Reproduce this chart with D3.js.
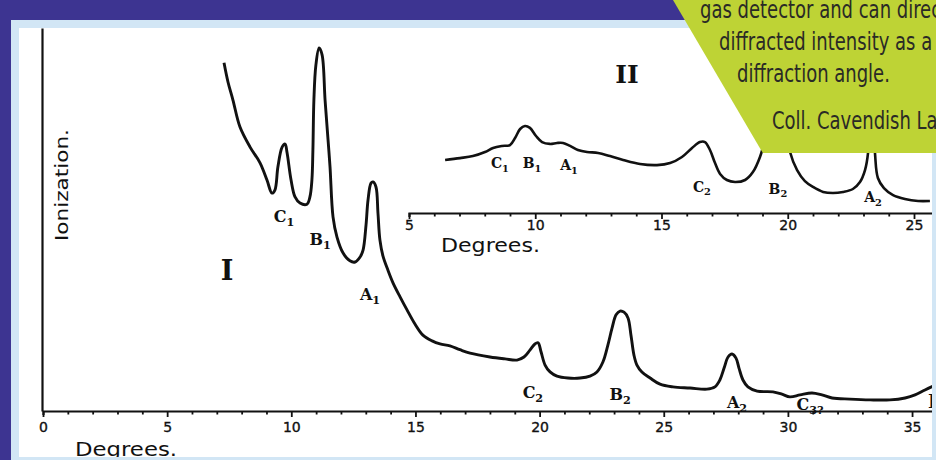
<!DOCTYPE html>
<html lang="en">
<head>
<meta charset="UTF-8">
<title>Bragg ionization spectrum</title>
<script src="https://cdn.jsdelivr.net/npm/d3@7/dist/d3.min.js"></script>
<style>
  body { margin: 0; background: #3d3491; }
  svg { display: block; }
</style>
</head>
<body>
<script>
// curve I (main): angle in degrees, ionization in arbitrary units
var mainDeg = [7.29, 7.45, 7.65, 7.93, 8.34, 8.74, 9.02, 9.22, 9.34, 9.46, 9.63, 9.75, 9.83, 9.99, 10.15,
  10.35, 10.63, 10.75, 10.83, 10.87, 10.91, 10.99, 11.12, 11.24, 11.36, 11.48, 11.56, 11.68, 11.84, 12.08,
  12.36, 12.57, 12.77, 12.89, 13.01, 13.09, 13.21, 13.29, 13.41, 13.49, 13.57, 13.69, 13.89, 14.10, 14.38,
  14.66, 14.98, 15.30, 15.67, 15.99, 16.39, 16.79, 17.20, 18.0, 18.61, 19.09, 19.37, 19.61, 19.81, 19.94,
  20.06, 20.22, 20.42, 20.70, 21.14, 21.63, 22.03, 22.31, 22.55, 22.75, 22.92, 23.08, 23.24, 23.40, 23.56,
  23.68, 23.80, 23.92, 24.12, 24.45, 24.85, 25.37, 26.06, 26.74, 27.06, 27.26, 27.43, 27.59, 27.75, 27.91,
  28.03, 28.19, 28.39, 28.76, 29.40, 29.76, 30.08, 30.49, 30.97, 31.37, 31.78, 32.50, 33.31, 34.11, 34.72,
  35.12, 35.52, 35.96];
var mainIon = [90.9, 85.9, 81.2, 74.2, 68.9, 64.8, 60.3, 56.9, 57.7, 63.7, 68.9, 69.7, 67.4, 60.3, 55.9,
  54.3, 54.0, 55.9, 60.3, 68.1, 81.2, 90.3, 94.8, 93.0, 81.2, 70.8, 63.7, 50.7, 45.4, 41.3,
  39.2, 38.9, 40.2, 42.0, 48.6, 55.1, 59.5, 59.8, 58.5, 51.7, 44.6, 40.5, 36.8, 33.4, 29.8,
  26.4, 22.7, 19.8, 18.3, 17.5, 17.0, 16.0, 15.1, 14.1, 13.6, 13.3, 14.1, 15.9, 17.5, 17.8,
  15.4, 12.0, 10.2, 9.1, 8.6, 8.6, 9.1, 10.2, 12.8, 17.2, 21.7, 25.1, 26.1, 25.8, 24.3,
  19.8, 14.6, 12.0, 10.2, 8.6, 7.0, 6.3, 6.0, 5.7, 6.3, 8.1, 11.2, 14.1, 14.9, 13.8,
  11.2, 8.1, 6.3, 5.2, 5.0, 4.4, 3.7, 4.2, 4.7, 4.2, 3.4, 3.1, 2.9, 2.9, 3.4,
  4.2, 5.5, 6.8];

// curve II (inset)
var insetDeg = [6.43, 7.02, 7.53, 8.01, 8.33, 8.68, 9.0, 9.20, 9.40, 9.59, 9.79, 10.03, 10.27, 10.58, 10.86,
  11.10, 11.38, 11.69, 12.05, 12.49, 12.96, 13.48, 14.15, 14.82, 15.34, 15.81, 16.21, 16.52, 16.72, 16.92,
  17.12, 17.32, 17.59, 17.91, 18.31, 18.62, 18.90, 19.14, 19.38, 19.61, 19.85, 20.09, 20.37, 20.68, 21.0,
  21.40, 21.79, 22.19, 22.58, 22.86, 23.06, 23.18, 23.26, 23.30, 23.38, 23.46, 23.57, 23.81, 24.17, 24.64,
  25.16, 25.63];
var insetIon = [28.3, 29.3, 30.4, 32.6, 34.8, 35.9, 36.4, 40.2, 45.1, 46.7, 45.7, 41.3, 38.0, 37.0, 37.5,
  37.5, 35.9, 33.7, 32.6, 32.1, 30.4, 28.3, 26.1, 25.5, 26.6, 29.9, 34.8, 38.0, 38.0, 33.7,
  26.6, 20.7, 17.4, 16.3, 17.4, 21.7, 29.9, 41.8, 58.2, 63.6, 55.4, 32.6, 22.8, 16.8, 13.6,
  10.9, 10.3, 10.9, 12.5, 16.3, 22.8, 32.1, 60.9, 77.2, 60.9, 31.0, 18.5, 13.0, 9.2, 7.1,
  6.0, 6.0];

var mainTicks = [0, 5, 10, 15, 20, 25, 30, 35];
var insetTicks = [5, 10, 15, 20, 25];

// peak labels: letter, subscript, anchor angle, anchor ionization
var mainPeakName = ['C', 'B', 'A', 'C', 'B', 'A', 'C'];
var mainPeakSub = ['1', '1', '1', '2', '2', '2', '3?'];
var mainPeakDeg = [9.71, 11.16, 13.17, 19.73, 23.24, 27.95, 30.89];
var mainPeakIon = [49.3, 43.3, 29.0, 3.4, 2.9, 0.8, 0.3];

var insetPeakName = ['C', 'B', 'A', 'C', 'B', 'A'];
var insetPeakSub = ['1', '1', '1', '2', '2', '2'];
var insetPeakDeg = [8.60, 9.87, 11.34, 16.60, 19.61, 23.38];
var insetPeakIon = [23.9, 23.9, 22.8, 10.9, 9.8, 5.4];

var calloutLines = ['gas detector and can directly',
  'diffracted intensity as a function',
  'diffraction angle.',
  'Coll. Cavendish Laboratory'];

var w = 936, h = 460;
var ink = '#111';
var hand = '"DejaVu Sans", sans-serif';
var letter = '"DejaVu Serif", serif';

var svg = d3.select('body').append('svg')
  .attr('width', w)
  .attr('height', h);

// frame
svg.append('rect').attr('width', w).attr('height', h).attr('fill', '#3d3491');
svg.append('rect').attr('x', 11).attr('y', 20).attr('width', w - 11).attr('height', h - 20).attr('fill', '#d2e6f5');
svg.append('rect').attr('x', 19).attr('y', 28).attr('width', 913).attr('height', 429).attr('fill', '#ffffff');

svg.append('clipPath').attr('id', 'paper')
  .append('rect').attr('x', 19).attr('y', 28).attr('width', 913).attr('height', 429);

var g = svg.append('g').attr('clip-path', 'url(#paper)');

// scales
var xMain = d3.scaleLinear().domain([0, 36]).range([43, 43 + 36 * 24.83]);
var yMain = d3.scaleLinear().domain([0, 100]).range([411, 28]);
var xInset = d3.scaleLinear().domain([5, 26]).range([409, 409 + 21 * 25.25]);
var yInset = d3.scaleLinear().domain([0, 100]).range([212, 28]);

function styleAxis(sel, labelDy, fontSize) {
  sel.select('.domain').attr('stroke', ink).attr('stroke-width', 2.2);
  sel.selectAll('.tick line').attr('stroke', ink).attr('stroke-width', 1.8)
    .attr('y2', function(d) { return d % 5 === 0 ? 6 : 3.5; });
  sel.selectAll('.tick text')
    .attr('fill', ink)
    .attr('font-family', hand)
    .attr('font-size', fontSize)
    .attr('stroke', ink)
    .attr('stroke-width', 0.35)
    .attr('dy', labelDy);
}

// main axes
var xAxisMain = d3.axisBottom(xMain)
  .tickValues(d3.range(0, 37))
  .tickSizeOuter(0)
  .tickSize(4)
  .tickFormat(function(d) { return mainTicks.indexOf(d) >= 0 ? d : ''; });
g.append('g').attr('transform', 'translate(0,411)').call(xAxisMain)
  .call(styleAxis, '1.0em', 14);

g.append('g').attr('transform', 'translate(42,0)')
  .call(d3.axisLeft(yMain).tickValues([]).tickSizeOuter(0))
  .select('.domain').attr('stroke', ink).attr('stroke-width', 2.2);

// inset axis
var xAxisInset = d3.axisBottom(xInset)
  .tickValues(d3.range(5, 27))
  .tickSizeOuter(0)
  .tickSize(4)
  .tickFormat(function(d) { return insetTicks.indexOf(d) >= 0 ? d : ''; });
g.append('g').attr('transform', 'translate(0,213)').call(xAxisInset)
  .call(styleAxis, '0.7em', 14);

// curves
var line = function(xs, ys) {
  return d3.line()
    .x(function(d) { return xs(d[0]); })
    .y(function(d) { return ys(d[1]); })
    .curve(d3.curveCatmullRom.alpha(0.5));
};

g.append('path')
  .datum(d3.zip(mainDeg, mainIon))
  .attr('d', line(xMain, yMain))
  .attr('fill', 'none')
  .attr('stroke', ink)
  .attr('stroke-width', 2.9)
  .attr('stroke-linejoin', 'round');

g.append('path')
  .datum(d3.zip(insetDeg, insetIon))
  .attr('d', line(xInset, yInset))
  .attr('fill', 'none')
  .attr('stroke', ink)
  .attr('stroke-width', 2.6)
  .attr('stroke-linejoin', 'round');

// peak labels
function peakLabels(names, subs, degs, ions, xs, ys, size) {
  var t = g.selectAll(null)
    .data(d3.range(names.length))
    .enter()
    .append('text')
    .attr('x', function(i) { return xs(degs[i]); })
    .attr('y', function(i) { return ys(ions[i]); })
    .attr('text-anchor', 'middle')
    .attr('font-family', letter)
    .attr('font-weight', 'bold')
    .attr('font-size', size)
    .attr('fill', ink);
  t.append('tspan').text(function(i) { return names[i]; });
  t.append('tspan')
    .attr('font-size', size * 0.7)
    .attr('dy', size * 0.25)
    .text(function(i) { return subs[i]; });
}
peakLabels(mainPeakName, mainPeakSub, mainPeakDeg, mainPeakIon, xMain, yMain, 16);
peakLabels(insetPeakName, insetPeakSub, insetPeakDeg, insetPeakIon, xInset, yInset, 14);

// curve numbers
g.append('text')
  .attr('x', xMain(7.41)).attr('y', yMain(34.2))
  .attr('text-anchor', 'middle')
  .attr('font-family', letter).attr('font-weight', 'bold').attr('font-size', 27)
  .attr('fill', ink).text('I');
g.append('text')
  .attr('x', xInset(13.63)).attr('y', yInset(70.1))
  .attr('text-anchor', 'middle')
  .attr('font-family', letter).attr('font-weight', 'bold').attr('font-size', 25)
  .attr('fill', ink).text('II');
g.append('text')
  .attr('x', 928).attr('y', 408)
  .attr('font-family', letter).attr('font-weight', 'bold').attr('font-size', 18)
  .attr('fill', ink).text('B');

// axis titles
g.append('text')
  .attr('x', 75).attr('y', 456)
  .attr('font-family', hand).attr('font-size', 20)
  .attr('textLength', 102).attr('lengthAdjust', 'spacingAndGlyphs')
  .attr('fill', ink).text('Degrees.');
g.append('text')
  .attr('x', 441).attr('y', 252)
  .attr('font-family', hand).attr('font-size', 19)
  .attr('textLength', 99).attr('lengthAdjust', 'spacingAndGlyphs')
  .attr('fill', ink).text('Degrees.');
g.append('text')
  .attr('transform', 'translate(68,185) rotate(-90)')
  .attr('text-anchor', 'middle')
  .attr('font-family', hand).attr('font-size', 17)
  .attr('textLength', 112).attr('lengthAdjust', 'spacingAndGlyphs')
  .attr('fill', ink).text('Ionization.');

// green callout
svg.append('polygon')
  .attr('points', [[673, 0], [w, 0], [w, 153], [763, 153], [761, 150]].join(' '))
  .attr('fill', '#bed335');

var calloutX = [700, 719, 737, 772];
var calloutY = [18, 50, 82, 129];
var texts = svg.selectAll('.callout')
  .data(calloutLines)
  .enter()
  .append('text')
  .attr('class', 'callout')
  .attr('font-family', '"Liberation Sans Narrow", "DejaVu Sans Condensed", "Open Sans", sans-serif')
  .attr('font-size', 24)
  .attr('fill', '#2a2a26')
  .text(function(d) { return d; });

// squeeze horizontally so "diffraction angle." spans ~153px like the poster font
var ref = texts.filter(function(d, i) { return i === 2; }).node().getComputedTextLength();
var sx = 153 / ref;
texts.attr('transform', function(d, i) {
  return 'translate(' + calloutX[i] + ',' + calloutY[i] + ') scale(' + sx + ',1)';
});
</script>
</body>
</html>
